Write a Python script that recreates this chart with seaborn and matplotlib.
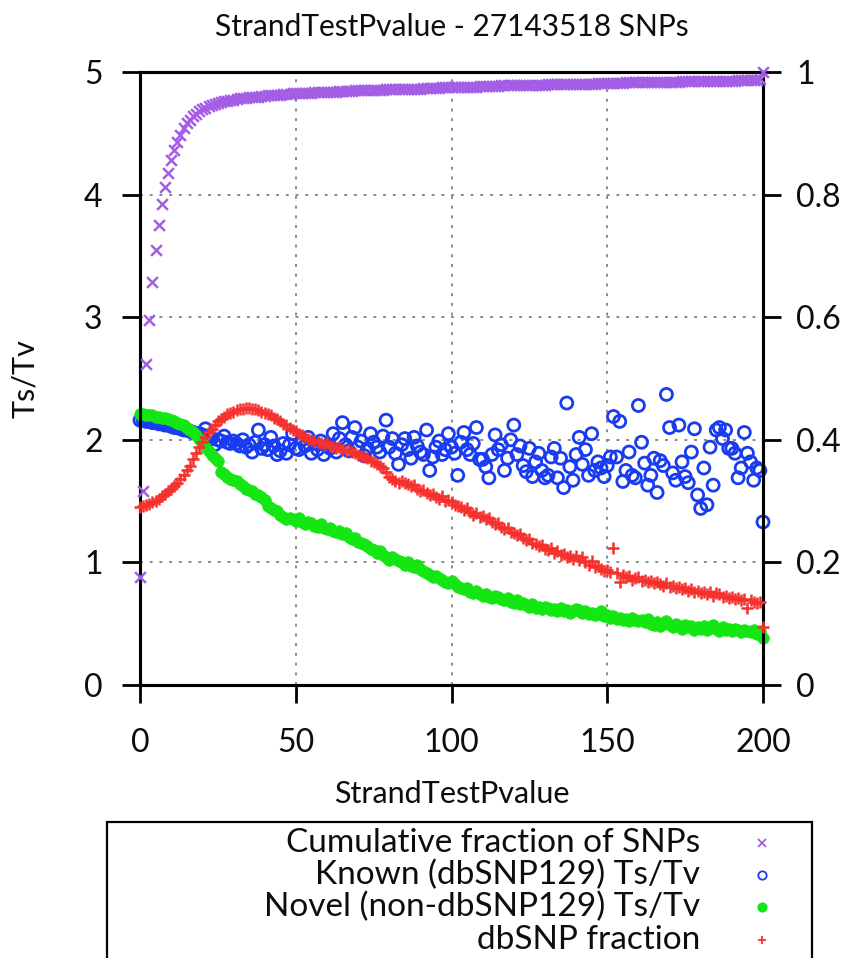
import matplotlib
matplotlib.use("Agg")
import matplotlib.pyplot as plt
from matplotlib.lines import Line2D
from matplotlib.patches import Rectangle
import seaborn as sns
import pandas as pd

sns.set_theme(style="white")
plt.rcParams['font.family'] = ['Lato', 'DejaVu Sans']

title = "StrandTestPvalue - 27143518 SNPs"
x_label = "StrandTestPvalue"
y_label = "Ts/Tv"
left_ticks = [0, 1, 2, 3, 4, 5]
right_ticks = [0, 0.2, 0.4, 0.6, 0.8, 1]
right_tick_labels = ["0", "0.2", "0.4", "0.6", "0.8", "1"]
x_ticks = [0, 50, 100, 150, 200]
series_names = ["Cumulative fraction of SNPs", "Known (dbSNP129) Ts/Tv",
                "Novel (non-dbSNP129) Ts/Tv", "dbSNP fraction"]

strand_pvalue = list(range(201))

cumulative_fraction = [
    0.176, 0.316, 0.524, 0.596, 0.658, 0.710, 0.750, 0.784, 0.812, 0.836,
    0.856, 0.872, 0.886, 0.898, 0.908, 0.916, 0.922, 0.928, 0.932, 0.936,
    0.940, 0.942, 0.944, 0.946, 0.948, 0.950, 0.951, 0.952, 0.953, 0.954,
    0.955, 0.956, 0.957, 0.957, 0.958, 0.959, 0.959, 0.960, 0.960, 0.961,
    0.961, 0.962, 0.962, 0.963, 0.963, 0.963, 0.964, 0.964, 0.964, 0.965,
    0.965, 0.965, 0.966, 0.966, 0.966, 0.966, 0.967, 0.967, 0.967, 0.967,
    0.968, 0.968, 0.968, 0.968, 0.969, 0.969, 0.969, 0.969, 0.969, 0.970,
    0.970, 0.970, 0.970, 0.970, 0.971, 0.971, 0.971, 0.971, 0.971, 0.972,
    0.972, 0.972, 0.972, 0.972, 0.972, 0.973, 0.973, 0.973, 0.973, 0.973,
    0.973, 0.974, 0.974, 0.974, 0.974, 0.974, 0.974, 0.975, 0.975, 0.975,
    0.975, 0.975, 0.975, 0.976, 0.976, 0.976, 0.976, 0.976, 0.976, 0.977,
    0.977, 0.977, 0.977, 0.977, 0.977, 0.977, 0.978, 0.978, 0.978, 0.978,
    0.978, 0.978, 0.978, 0.978, 0.979, 0.979, 0.979, 0.979, 0.979, 0.979,
    0.979, 0.980, 0.980, 0.980, 0.980, 0.980, 0.980, 0.980, 0.980, 0.981,
    0.981, 0.981, 0.981, 0.981, 0.981, 0.981, 0.981, 0.982, 0.982, 0.982,
    0.982, 0.982, 0.982, 0.982, 0.982, 0.982, 0.983, 0.983, 0.983, 0.983,
    0.983, 0.983, 0.983, 0.983, 0.983, 0.984, 0.984, 0.984, 0.984, 0.984,
    0.984, 0.984, 0.984, 0.984, 0.985, 0.985, 0.985, 0.985, 0.985, 0.985,
    0.985, 0.985, 0.985, 0.986, 0.986, 0.986, 0.986, 0.986, 0.986, 0.986,
    0.986, 0.986, 0.987, 0.987, 0.987, 0.987, 0.987, 0.987, 0.987, 0.988,
    1.000,
]

known_tstv = [
    2.16, 2.16, 2.15, 2.15, 2.14, 2.14, 2.13, 2.13, 2.12, 2.12,
    2.11, 2.10, 2.10, 2.09, 2.08, 2.08, 2.07, 2.06, 2.05, 2.05,
    2.04, 2.09, 2.02, 2.01, 1.96, 2.00, 1.99, 2.03, 1.98, 1.97,
    1.99, 1.97, 1.95, 2.00, 1.94, 1.96, 1.90, 1.98, 2.08, 1.93,
    1.96, 1.92, 2.02, 1.95, 1.88, 1.91, 1.97, 1.89, 1.96, 2.05,
    1.93, 1.92, 2.00, 1.95, 2.02, 1.89, 1.97, 1.92, 1.99, 1.88,
    1.95, 1.93, 2.05, 1.90, 2.01, 2.14, 1.96, 1.91, 2.02, 2.10,
    1.94, 1.99, 1.87, 1.93, 2.05, 1.98, 1.94, 1.90, 2.03, 2.16,
    1.94, 2.01, 1.89, 1.80, 1.96, 2.01, 1.92, 1.85, 2.02, 1.95,
    1.90, 1.88, 2.08, 1.75, 1.86, 1.94, 1.99, 1.88, 1.92, 2.05,
    1.94, 1.89, 1.71, 1.98, 2.06, 1.92, 1.88, 1.97, 2.10, 1.84,
    1.84, 1.78, 1.69, 1.88, 2.04, 1.92, 1.96, 1.75, 1.85, 2.00,
    2.12, 1.88, 1.95, 1.79, 1.74, 1.93, 1.70, 1.82, 1.89, 1.75,
    1.69, 1.71, 1.86, 1.93, 1.69, 1.85, 1.61, 2.30, 1.78, 1.67,
    1.88, 2.02, 1.80, 1.92, 1.71, 2.05, 1.75, 1.82, 1.77, 1.70,
    1.79, 1.86, 2.19, 1.86, 2.15, 1.66, 1.75, 1.90, 1.71, 1.69,
    2.28, 1.98, 1.81, 1.63, 1.71, 1.85, 1.57, 1.83, 1.79, 2.37,
    2.10, 1.73, 1.67, 2.12, 1.82, 1.70, 1.65, 1.90, 2.09, 1.55,
    1.44, 1.77, 1.47, 1.94, 1.63, 2.08, 2.10, 2.01, 2.08, 1.93,
    1.93, 1.89, 1.69, 1.77, 2.06, 1.89, 1.82, 1.67, 1.77, 1.75,
    1.33,
]

novel_tstv = [
    2.21, 2.21, 2.20, 2.20, 2.20, 2.19, 2.19, 2.18, 2.18, 2.17,
    2.16, 2.15, 2.14, 2.13, 2.12, 2.10, 2.08, 2.06, 2.04, 2.01,
    1.97, 1.94, 1.91, 1.88, 1.85, 1.83, 1.74, 1.72, 1.70, 1.68,
    1.67, 1.66, 1.64, 1.62, 1.60, 1.59, 1.58, 1.56, 1.55, 1.53,
    1.51, 1.46, 1.44, 1.43, 1.42, 1.39, 1.37, 1.35, 1.36, 1.35,
    1.34, 1.36, 1.33, 1.31, 1.33, 1.32, 1.30, 1.29, 1.31, 1.28,
    1.27, 1.28, 1.26, 1.25, 1.26, 1.23, 1.24, 1.21, 1.19, 1.20,
    1.17, 1.16, 1.15, 1.13, 1.11, 1.10, 1.08, 1.09, 1.06, 1.04,
    1.02, 1.04, 1.03, 1.01, 1.00, 0.98, 1.00, 0.97, 0.96, 0.98,
    0.95, 0.93, 0.91, 0.90, 0.88, 0.89, 0.87, 0.86, 0.84, 0.83,
    0.85, 0.82, 0.80, 0.79, 0.78, 0.79, 0.76, 0.75, 0.77, 0.74,
    0.73, 0.74, 0.72, 0.71, 0.73, 0.72, 0.70, 0.69, 0.71, 0.68,
    0.67, 0.69, 0.66, 0.67, 0.65, 0.64, 0.66, 0.63, 0.64, 0.62,
    0.64, 0.63, 0.61, 0.62, 0.60, 0.63, 0.60, 0.61, 0.59, 0.60,
    0.62, 0.61, 0.59, 0.60, 0.58, 0.59, 0.57, 0.58, 0.60, 0.56,
    0.57, 0.55, 0.56, 0.54, 0.55, 0.53, 0.54, 0.52, 0.55, 0.53,
    0.52, 0.53, 0.51, 0.54, 0.50, 0.49, 0.51, 0.48, 0.50, 0.52,
    0.49, 0.47, 0.50, 0.48, 0.46, 0.49, 0.47, 0.48, 0.45, 0.47,
    0.46, 0.48, 0.45, 0.47, 0.49, 0.46, 0.44, 0.47, 0.45, 0.46,
    0.44, 0.46, 0.45, 0.43, 0.45, 0.44, 0.43, 0.45, 0.42, 0.44,
    0.38,
]

dbsnp_fraction = [
    0.290, 0.292, 0.294, 0.296, 0.298, 0.300, 0.304, 0.308, 0.312, 0.316,
    0.320, 0.324, 0.330, 0.336, 0.342, 0.350, 0.358, 0.368, 0.378, 0.388,
    0.396, 0.404, 0.412, 0.418, 0.424, 0.430, 0.434, 0.438, 0.442, 0.444,
    0.446, 0.448, 0.450, 0.450, 0.452, 0.452, 0.450, 0.450, 0.448, 0.446,
    0.444, 0.442, 0.440, 0.436, 0.434, 0.430, 0.426, 0.424, 0.420, 0.416,
    0.414, 0.410, 0.408, 0.404, 0.402, 0.400, 0.398, 0.396, 0.394, 0.392,
    0.394, 0.390, 0.388, 0.386, 0.388, 0.384, 0.382, 0.384, 0.380, 0.378,
    0.376, 0.374, 0.372, 0.370, 0.366, 0.364, 0.360, 0.358, 0.354, 0.348,
    0.340, 0.336, 0.332, 0.330, 0.332, 0.330, 0.328, 0.324, 0.326, 0.320,
    0.316, 0.318, 0.314, 0.310, 0.312, 0.306, 0.304, 0.308, 0.300, 0.302,
    0.298, 0.294, 0.292, 0.290, 0.286, 0.288, 0.282, 0.278, 0.280, 0.274,
    0.276, 0.270, 0.272, 0.266, 0.262, 0.264, 0.258, 0.254, 0.256, 0.250,
    0.248, 0.244, 0.246, 0.240, 0.236, 0.238, 0.232, 0.230, 0.226, 0.228,
    0.222, 0.220, 0.224, 0.216, 0.218, 0.212, 0.214, 0.208, 0.210, 0.206,
    0.210, 0.204, 0.208, 0.200, 0.196, 0.202, 0.192, 0.194, 0.190, 0.186,
    0.188, 0.184, 0.224, 0.182, 0.168, 0.180, 0.176, 0.178, 0.172, 0.174,
    0.176, 0.170, 0.172, 0.168, 0.170, 0.166, 0.168, 0.164, 0.162, 0.166,
    0.160, 0.162, 0.158, 0.160, 0.156, 0.158, 0.154, 0.156, 0.152, 0.154,
    0.150, 0.152, 0.148, 0.152, 0.146, 0.150, 0.148, 0.144, 0.146, 0.142,
    0.144, 0.140, 0.142, 0.138, 0.140, 0.126, 0.138, 0.136, 0.134, 0.136,
    0.094,
]

df = pd.DataFrame({
    "x": strand_pvalue,
    "cum": cumulative_fraction,
    "known": known_tstv,
    "novel": novel_tstv,
    "dbsnp": dbsnp_fraction,
})

PURPLE = "#a45ee5"
BLUE = "#1a3cf0"
GREEN = "#14e614"
RED = "#f5312d"
TEXT = "#0d0d0d"

fig = plt.figure(figsize=(8.5, 9.58), dpi=100)
ax = fig.add_axes([140/850, 1-685/958, 623/850, 613/958])
ax2 = ax.twinx()

# grid
for gx in [50, 100, 150]:
    ax.axvline(gx, color="#8a8a8a", lw=1.4, ls=(0, (1.5, 3.5)), zorder=0)
for gy in [1, 2, 3, 4]:
    ax.axhline(gy, color="#8a8a8a", lw=1.4, ls=(0, (1.5, 3.5)), zorder=0)

sns.scatterplot(data=df, x="x", y="known", ax=ax, marker="o", s=75,
                facecolors="none", edgecolors=BLUE, linewidth=2.0, clip_on=False, zorder=3)
sns.scatterplot(data=df, x="x", y="novel", ax=ax, marker="o", s=70,
                color=GREEN, edgecolor=GREEN, linewidth=0.5, clip_on=False, zorder=4)
sns.scatterplot(data=df, x="x", y="cum", ax=ax2, marker="x", s=60,
                color=PURPLE, linewidth=1.8, clip_on=False, zorder=3)
sns.scatterplot(data=df, x="x", y="dbsnp", ax=ax2, marker="+", s=80,
                color=RED, linewidth=1.8, clip_on=False, zorder=4)

ax.set_xlim(0, 200)
ax.set_ylim(0, 5)
ax2.set_ylim(0, 1)
ax.set_xticks(x_ticks)
ax.set_xticklabels([str(t) for t in x_ticks])
ax.set_yticks(left_ticks)
ax.set_yticklabels([str(t) for t in left_ticks])
ax2.set_yticks(right_ticks)
ax2.set_yticklabels(right_tick_labels)

for a in (ax, ax2):
    for sp in a.spines.values():
        sp.set_color("black")
        sp.set_linewidth(2.2)
        sp.set_visible(True)
ax.tick_params(axis="both", direction="out", length=13, width=2, colors="black",
               labelcolor=TEXT, labelsize=23, pad=14, bottom=True, left=True)
ax.tick_params(axis="x", pad=18)
ax2.tick_params(axis="y", direction="out", length=13, width=2, colors="black",
                labelcolor=TEXT, labelsize=23, pad=11, right=True)
ax.set_xlabel(x_label, fontsize=22, labelpad=16, color=TEXT)
ax.set_ylabel(y_label, fontsize=22, labelpad=32, color=TEXT)
ax2.set_ylabel("")
ax.set_title(title, fontsize=21.5, pad=26, color=TEXT)

# legend box
fig.patches.append(Rectangle((107/850, -0.02), 705/850, 0.02 + (958-822)/958,
                             transform=fig.transFigure, fill=False,
                             edgecolor="black", linewidth=1.6, figure=fig))
legend_y = [843, 875, 907, 940]
legend_markers = [("x", PURPLE, "none"), ("o", BLUE, "none"), ("o", GREEN, GREEN), ("+", RED, RED)]
for name, ypx, (mk, col, fc) in zip(series_names, legend_y, legend_markers):
    fig.text(700/850, 1-ypx/958, name, ha="right", va="center", fontsize=24, color=TEXT)
    fig.add_artist(Line2D([762/850], [1-ypx/958], transform=fig.transFigure, marker=mk,
                          markersize=6, color=col, markerfacecolor=fc,
                          markeredgecolor=col, markeredgewidth=1.3, linestyle="none"))

fig.savefig("out.png", dpi=100)
